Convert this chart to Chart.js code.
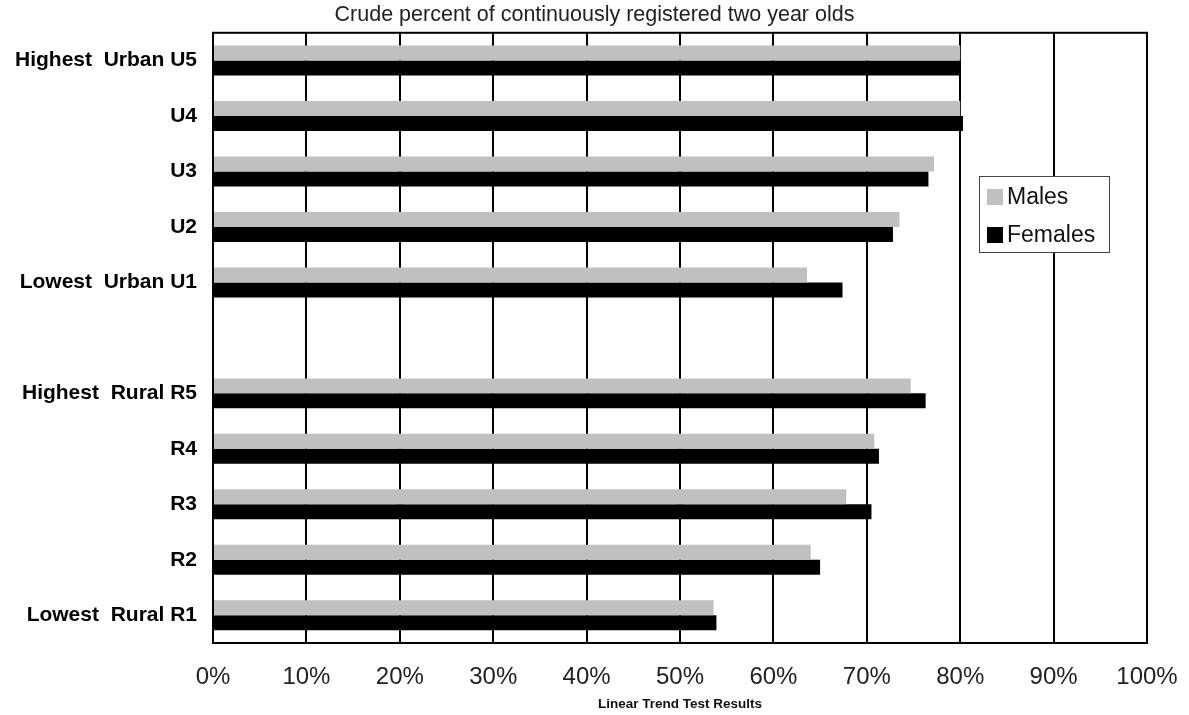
<!DOCTYPE html>
<html>
<head>
<meta charset="utf-8">
<script src="https://cdn.jsdelivr.net/npm/chart.js@4/dist/chart.umd.min.js"></script>
<style>
  html, body { margin: 0; padding: 0; background: #fff; }
  #wrap { width: 1189px; height: 715px; }
</style>
</head>
<body>
<div id="wrap"><canvas id="chart"></canvas></div>
<script>
const categories = ['Highest  Urban U5', 'U4', 'U3', 'U2', 'Lowest  Urban U1', '',
  'Highest  Rural R5', 'R4', 'R3', 'R2', 'Lowest  Rural R1'];
const males = [80.0, 80.0, 77.2, 73.5, 63.6, null, 74.7, 70.8, 67.8, 64.0, 53.6];
const females = [80.0, 80.3, 76.6, 72.8, 67.4, null, 76.3, 71.3, 70.5, 65.0, 53.9];
const xTicks = [0, 10, 20, 30, 40, 50, 60, 70, 80, 90, 100];

const FONT = "'Liberation Sans', Arial, sans-serif";

// frame round the plot area
const frame = {
  id: 'frame',
  afterDatasetsDraw(chart) {
    const { ctx, chartArea: a } = chart;
    ctx.save();
    ctx.strokeStyle = '#000';
    ctx.lineWidth = 2;
    ctx.strokeRect(a.left, a.top, a.right - a.left, a.bottom - a.top);
    ctx.restore();
  }
};

// legend box sitting inside the plot
const boxLegend = {
  id: 'boxLegend',
  afterDraw(chart) {
    const ctx = chart.ctx;
    const x = 979, y = 176, w = 130, h = 76;
    ctx.save();
    ctx.fillStyle = '#fff';
    ctx.fillRect(x, y, w, h);
    ctx.strokeStyle = '#444';
    ctx.lineWidth = 1;
    ctx.strokeRect(x + 0.5, y + 0.5, w, h);
    ctx.font = '23px ' + FONT;
    ctx.textBaseline = 'middle';
    chart.data.datasets.forEach((ds, i) => {
      const cy = y + 21 + i * 38;
      ctx.fillStyle = ds.backgroundColor;
      ctx.fillRect(x + 8, cy - 8, 16, 16);
      ctx.fillStyle = '#111';
      ctx.fillText(ds.label, x + 28, cy + 1);
    });
    ctx.restore();
  }
};

new Chart(document.getElementById('chart'), {
  type: 'bar',
  data: {
    labels: categories,
    datasets: [
      { label: 'Males', data: males, backgroundColor: '#c0c0c0' },
      { label: 'Females', data: females, backgroundColor: '#000000' }
    ]
  },
  options: {
    indexAxis: 'y',
    responsive: true,
    maintainAspectRatio: false,
    animation: false,
    layout: { padding: 0 },
    datasets: { bar: { categoryPercentage: 0.54, barPercentage: 1.0 } },
    plugins: {
      legend: { display: false },
      tooltip: { enabled: false },
      title: {
        display: true,
        text: 'Crude percent of continuously registered two year olds',
        color: '#222',
        font: { family: FONT, size: 21.5, weight: 'normal' },
        padding: { top: 2, bottom: 5 }
      }
    },
    scales: {
      x: {
        min: 0,
        max: 100,
        afterBuildTicks: axis => { axis.ticks = xTicks.map(v => ({ value: v })); },
        afterFit: axis => { axis.height = 72; axis.paddingLeft = 0; axis.paddingRight = 42; },
        grid: { color: '#000', lineWidth: 2, drawTicks: false },
        border: { color: '#000', width: 2 },
        ticks: {
          padding: 20,
          color: '#222',
          font: { family: FONT, size: 24 },
          callback: v => v + '%'
        },
        title: {
          display: true,
          text: 'Linear Trend Test Results',
          color: '#111',
          font: { family: FONT, size: 13.5, weight: 'bold' },
          padding: { top: 0, bottom: 3 }
        }
      },
      y: {
        afterFit: axis => { axis.width = 213; },
        grid: { display: false },
        border: { color: '#000', width: 2 },
        ticks: {
          padding: 8,
          color: '#000',
          font: { family: FONT, size: 21, weight: 'bold' }
        }
      }
    }
  },
  plugins: [frame, boxLegend]
});
</script>
</body>
</html>
